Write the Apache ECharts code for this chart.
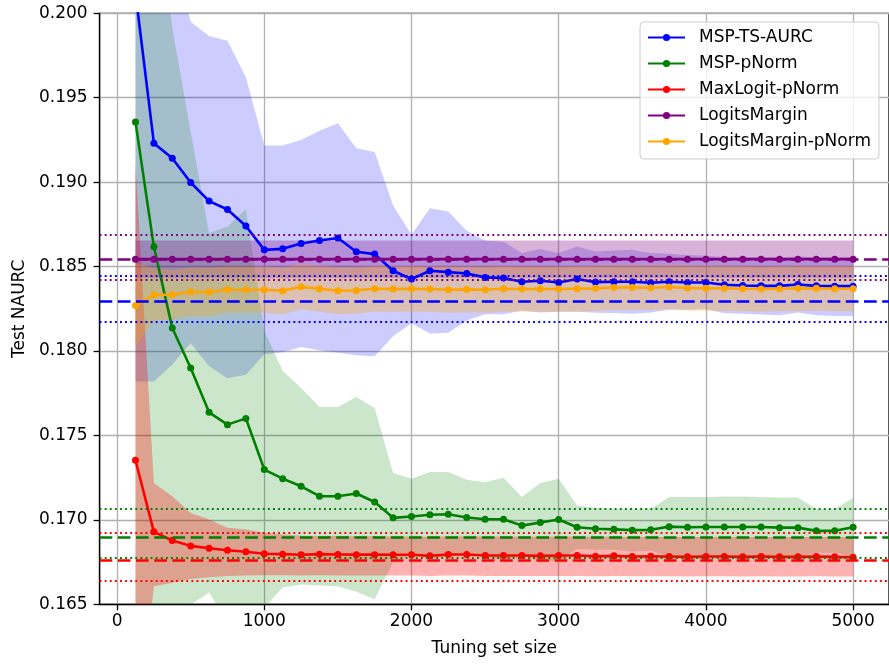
<!DOCTYPE html>
<html><head><meta charset="utf-8">
<script src="https://cdn.jsdelivr.net/npm/echarts@6/dist/echarts.min.js"></script>
<style>html,body{margin:0;padding:0;background:#fff}#c{width:889px;height:664px}</style>
</head><body><div id="c"></div>
<script>
// ---------- DATA ----------
const sizes = [125,250,375,500,625,750,875,1000,1125,1250,1375,1500,1625,1750,1875,2000,2125,2250,2375,2500,
  2625,2750,2875,3000,3125,3250,3375,3500,3625,3750,3875,4000,4125,4250,4375,4500,4625,4750,4875,5000];
const xTicks = [0,1000,2000,3000,4000,5000];

const seriesNames = ['MSP-TS-AURC','MSP-pNorm','MaxLogit-pNorm','LogitsMargin','LogitsMargin-pNorm'];

const mspTsMean = [0.2012,0.19231,0.19142,0.18998,0.18888,0.18838,0.18740,0.18599,0.18605,0.18637,0.18654,0.18669,0.18588,0.18574,0.18475,0.18426,0.18475,0.18467,0.18459,0.18436,
  0.18432,0.18410,0.18416,0.18406,0.18426,0.18408,0.18410,0.18410,0.18404,0.18410,0.18406,0.18406,0.18392,0.18388,0.18386,0.18386,0.18394,0.18386,0.18384,0.18384];
const mspTsUpper = [0.2242,0.2064,0.2036,0.1995,0.19866,0.19838,0.19621,0.19217,0.19217,0.19250,0.19304,0.19349,0.19201,0.19179,0.18862,0.18688,0.18846,0.18826,0.18712,0.18655,
  0.18647,0.18580,0.18604,0.18580,0.18619,0.18589,0.18595,0.18599,0.18580,0.18576,0.18568,0.18565,0.18556,0.18556,0.18556,0.18556,0.18560,0.18556,0.18556,0.18556];
const mspTsLower = [0.1782,0.1782,0.1792,0.18046,0.17910,0.17838,0.17859,0.17981,0.17993,0.18024,0.18004,0.17989,0.17975,0.17969,0.18088,0.18164,0.18104,0.18108,0.18180,0.18217,
  0.18217,0.18240,0.18228,0.18232,0.18233,0.18227,0.18225,0.18221,0.18228,0.18244,0.18244,0.18247,0.18224,0.18220,0.18216,0.18212,0.18228,0.18212,0.18208,0.18208];

const mspPnMean = [0.19357,0.18617,0.18136,0.17899,0.17637,0.17564,0.17601,0.17298,0.17244,0.17199,0.17140,0.17140,0.17156,0.17106,0.17012,0.17020,0.17030,0.17033,0.17014,0.17004,
  0.17004,0.16966,0.16984,0.17002,0.16956,0.16947,0.16944,0.16939,0.16941,0.16960,0.16956,0.16958,0.16958,0.16958,0.16958,0.16954,0.16954,0.16935,0.16935,0.16956];
const mspPnUpper = [0.2236,0.2082,0.19911,0.19300,0.18698,0.18737,0.18840,0.1812,0.17881,0.17781,0.17669,0.17669,0.17728,0.17663,0.17278,0.17244,0.17284,0.17284,0.17238,0.17223,
  0.17249,0.17136,0.17219,0.17244,0.17085,0.17071,0.17065,0.17065,0.17065,0.17136,0.17136,0.17136,0.17138,0.17138,0.17136,0.17132,0.17132,0.17065,0.17065,0.17130];
const mspPnLower = [0.1636,0.1641,0.16361,0.16498,0.16570,0.16391,0.16362,0.1648,0.16600,0.16617,0.16611,0.16605,0.16575,0.16530,0.16750,0.16796,0.16776,0.16782,0.16790,0.16785,
  0.16759,0.16796,0.16749,0.16760,0.16827,0.16823,0.16823,0.16813,0.16817,0.16784,0.16776,0.16780,0.16778,0.16778,0.16780,0.16776,0.16776,0.16805,0.16805,0.16782];

const maxLogitMean = [0.17353,0.16929,0.16878,0.16846,0.16832,0.16820,0.16811,0.16799,0.16797,0.16793,0.16797,0.16795,0.16794,0.16794,0.16793,0.16793,0.16787,0.16795,0.16795,0.16789,
  0.16789,0.16789,0.16787,0.16789,0.16789,0.16785,0.16787,0.16783,0.16785,0.16783,0.16781,0.16783,0.16783,0.16781,0.16783,0.16781,0.16781,0.16783,0.16781,0.16779];
const maxLogitUpper = [0.19112,0.17219,0.17140,0.17041,0.17002,0.16953,0.16943,0.16923,0.16913,0.16906,0.16905,0.16904,0.16903,0.16903,0.16902,0.16902,0.16900,0.16903,0.16903,0.16902,
  0.16902,0.16902,0.16900,0.16902,0.16902,0.16900,0.16901,0.16899,0.16900,0.16899,0.16898,0.16899,0.16899,0.16898,0.16899,0.16898,0.16898,0.16899,0.16898,0.16897];
const maxLogitLower = [0.1559,0.16607,0.16627,0.16650,0.16660,0.16668,0.16670,0.16672,0.16672,0.16670,0.16672,0.16670,0.16670,0.16670,0.16670,0.16670,0.16668,0.16670,0.16670,0.16668,
  0.16668,0.16668,0.16668,0.16668,0.16668,0.16666,0.16668,0.16666,0.16666,0.16666,0.16665,0.16666,0.16666,0.16665,0.16666,0.16665,0.16665,0.16666,0.16665,0.16665];

const marginMean = [0.18544,0.18544,0.18544,0.18544,0.18544,0.18544,0.18544,0.18544,0.18544,0.18544,0.18544,0.18544,0.18544,0.18544,0.18544,0.18544,0.18544,0.18544,0.18544,0.18544,
  0.18544,0.18544,0.18544,0.18544,0.18544,0.18544,0.18544,0.18544,0.18544,0.18544,0.18544,0.18544,0.18544,0.18544,0.18544,0.18544,0.18544,0.18544,0.18544,0.18544];
const marginUpper = [0.18655,0.18655,0.18655,0.18655,0.18655,0.18655,0.18655,0.18655,0.18655,0.18655,0.18655,0.18655,0.18655,0.18655,0.18655,0.18655,0.18655,0.18655,0.18655,0.18655,
  0.18655,0.18655,0.18655,0.18655,0.18655,0.18655,0.18655,0.18655,0.18655,0.18655,0.18655,0.18655,0.18655,0.18655,0.18655,0.18655,0.18655,0.18655,0.18655,0.18655];
const marginLower = [0.18433,0.18433,0.18433,0.18433,0.18433,0.18433,0.18433,0.18433,0.18433,0.18433,0.18433,0.18433,0.18433,0.18433,0.18433,0.18433,0.18433,0.18433,0.18433,0.18433,
  0.18433,0.18433,0.18433,0.18433,0.18433,0.18433,0.18433,0.18433,0.18433,0.18433,0.18433,0.18433,0.18433,0.18433,0.18433,0.18433,0.18433,0.18433,0.18433,0.18433];

const marginPnMean = [0.18270,0.18333,0.18333,0.18351,0.18349,0.18363,0.18363,0.18363,0.18357,0.18380,0.18369,0.18357,0.18359,0.18369,0.18367,0.18369,0.18367,0.18363,0.18365,0.18363,
  0.18369,0.18367,0.18367,0.18367,0.18369,0.18371,0.18376,0.18376,0.18375,0.18379,0.18373,0.18372,0.18372,0.18369,0.18367,0.18369,0.18372,0.18371,0.18369,0.18369];
const marginPnUpper = [0.18520,0.18490,0.18480,0.18495,0.18492,0.18500,0.18500,0.18500,0.18496,0.18512,0.18505,0.18496,0.18497,0.18504,0.18502,0.18504,0.18502,0.18500,0.18501,0.18500,
  0.18504,0.18502,0.18502,0.18502,0.18504,0.18505,0.18508,0.18508,0.18507,0.18510,0.18506,0.18505,0.18505,0.18503,0.18502,0.18503,0.18505,0.18504,0.18503,0.18503];
const marginPnLower = [0.18030,0.18176,0.18186,0.18207,0.18206,0.18226,0.18226,0.18226,0.18218,0.18248,0.18233,0.18218,0.18221,0.18234,0.18232,0.18234,0.18232,0.18226,0.18229,0.18226,
  0.18234,0.18232,0.18232,0.18232,0.18234,0.18237,0.18244,0.18244,0.18243,0.18248,0.18240,0.18239,0.18239,0.18235,0.18232,0.18235,0.18239,0.18238,0.18235,0.18235];

// reference lines: [dashed, dotted upper, dotted lower]
const mspTsRef = [0.18293,0.18444,0.18172];
const mspPnRef = [0.16895,0.17063,0.16773];
const maxLogitRef = [0.16761,0.16923,0.16637];
const marginRef = [0.18544,0.18688,0.18420];

const yTicks = {min:0.165, max:0.200, step:0.005};

// ---------- CHART ----------
const FONT = 'DejaVu Sans';
const colors = ['#0000ff','#008000','#ff0000','#800080','#ffa500'];
const bandFills = ['rgba(0,0,255,0.2)','rgba(0,128,0,0.2)','rgba(255,0,0,0.3)','rgba(128,0,128,0.3)','rgba(255,165,0,0.3)'];
const means = [mspTsMean, mspPnMean, maxLogitMean, marginMean, marginPnMean];
const uppers = [mspTsUpper, mspPnUpper, maxLogitUpper, marginUpper, marginPnUpper];
const lowers = [mspTsLower, mspPnLower, maxLogitLower, marginLower, marginPnLower];
const refs = [mspTsRef, mspPnRef, maxLogitRef, marginRef, null];

function bandSeries(k) {
  const up = uppers[k], lo = lowers[k];
  return {
    type: 'custom', name: seriesNames[k] + ' band', z: 1, silent: true, clip: true, animation: false,
    data: [[sizes[0], means[k][0]]],
    renderItem: function (params, api) {
      const pts = [];
      for (let i = 0; i < sizes.length; i++) pts.push(api.coord([sizes[i], up[i]]));
      for (let i = sizes.length - 1; i >= 0; i--) pts.push(api.coord([sizes[i], lo[i]]));
      return { type: 'polygon', shape: { points: pts }, style: { fill: bandFills[k], stroke: null } };
    }
  };
}

function lineSeries(k) {
  const s = {
    type: 'line', name: seriesNames[k], z: 3, animation: false, clip: true,
    data: sizes.map((x, i) => [x, means[k][i]]),
    symbol: 'circle', symbolSize: 7, showSymbol: true, showAllSymbol: true,
    lineStyle: { width: 2.6, color: colors[k] },
    itemStyle: { color: colors[k] }
  };
  if (refs[k]) {
    const r = refs[k];
    s.markLine = {
      silent: true, animation: false, symbol: ['none', 'none'], label: { show: false },
      precision: 6,
      emphasis: { disabled: true },
      data: [
        { yAxis: r[0], lineStyle: { color: colors[k], width: 2.7, type: [12.7, 5.5] } },
        { yAxis: r[1], lineStyle: { color: colors[k], width: 1.9, type: [1.9, 3.2] } },
        { yAxis: r[2], lineStyle: { color: colors[k], width: 1.9, type: [1.9, 3.2] } }
      ]
    };
  }
  return s;
}

const series = [];
for (let k = 0; k < 5; k++) series.push(bandSeries(k));
for (let k = 0; k < 5; k++) series.push(lineSeries(k));

const chart = echarts.init(document.getElementById('c'), null, { renderer: 'canvas' });
chart.setOption({
  animation: false,
  textStyle: { fontFamily: FONT },
  grid: { left: 99.6, top: 13.3, width: 794.2, height: 591, show: true, borderColor: '#000', borderWidth: 1.3, backgroundColor: 'transparent' },
  xAxis: {
    type: 'value', min: -118.75, max: 5243.75,
    name: 'Tuning set size', nameLocation: 'middle', nameGap: 36,
    nameTextStyle: { fontSize: 17, color: '#000', fontFamily: FONT },
    axisLine: { show: true, onZero: false, lineStyle: { color: '#000', width: 1.3 } },
    axisTick: { show: true, length: 6, customValues: xTicks, lineStyle: { color: '#000', width: 1.3 } },
    axisLabel: { customValues: xTicks, fontSize: 17, color: '#000', margin: 9, fontFamily: FONT, formatter: v => String(Math.round(v)) },
    splitLine: { show: true, lineStyle: { color: '#b0b0b0', width: 1.3 } }
  },
  yAxis: {
    type: 'value', min: yTicks.min, max: yTicks.max, interval: yTicks.step,
    name: 'Test NAURC', nameLocation: 'middle', nameGap: 72,
    nameTextStyle: { fontSize: 17, color: '#000', fontFamily: FONT },
    axisLine: { show: true, onZero: false, lineStyle: { color: '#000', width: 1.3 } },
    axisTick: { show: true, length: 6, lineStyle: { color: '#000', width: 1.3 } },
    axisLabel: { fontSize: 17, color: '#000', margin: 12, fontFamily: FONT, formatter: v => v.toFixed(3) },
    splitLine: { show: true, lineStyle: { color: '#b0b0b0', width: 1.3 } }
  },
  legend: {
    data: seriesNames, orient: 'vertical', left: 640, top: 22,
    itemWidth: 37, itemHeight: 9, itemGap: 9,
    padding: [7, 8, 9, 7],
    backgroundColor: 'rgba(255,255,255,0.8)', borderColor: '#cccccc', borderWidth: 1, borderRadius: 4,
    textStyle: { fontSize: 17, color: '#000', fontFamily: FONT, padding: [0, 0, 0, 9] },
    selectedMode: false
  },
  series: series
});
</script>
</body></html>
